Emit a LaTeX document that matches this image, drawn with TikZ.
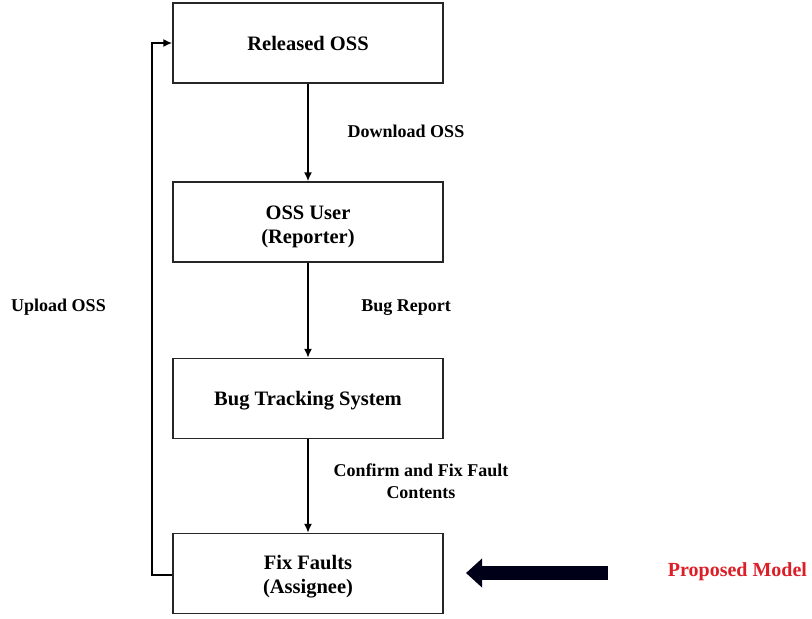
\documentclass[tikz,border=0pt]{standalone}
\usepackage{fontspec}
\setmainfont{Liberation Serif}
\usetikzlibrary{arrows.meta}
\definecolor{propred}{RGB}{220,30,40}
\begin{document}
\begin{tikzpicture}[x=1pt,y=-1pt,
  box/.style={draw=black!85,line width=1.3pt,minimum width=270pt,minimum height=80pt,inner sep=0pt},
  boxtext/.style={align=center,font=\bfseries\fontsize{20.5}{24}\selectfont,inner sep=0pt},
  lbl/.style={font=\bfseries\fontsize{18}{22}\selectfont,align=center},
  conn/.style={line width=1.8pt,-{Latex[length=9pt,width=8pt]}}]
\useasboundingbox (0,0) rectangle (812,619);
\node[box] (rel) at (308,43) {};
\node[box] (user) at (308,222) {};
\node[box] (bts) at (308,398.5) {};
\node[box] (fix) at (308,573.5) {};
\node[boxtext] (relt) at (308,43.5) {Released OSS};
\node[boxtext] (usert) at (308,227) {OSS User\\(Reporter)};
\node[boxtext] (btst) at (308,400.5) {Bug Tracking System};
\node[boxtext] (fixt) at (308,577) {Fix Faults\\(Assignee)};
\draw[conn] (rel) -- (user);
\draw[conn] (user) -- (bts);
\draw[conn] (bts) -- (fix);
\coordinate (c1) at (152,575);
\coordinate (c2) at (152,43);
\draw[conn,line width=2.2pt] (fix.west |- c1) -- (c1) -- (c2) -- (rel.west);
\node[lbl] (l1) at (406,131) {Download OSS};
\node[lbl] (l2) at (406,308) {Bug Report};
\node[lbl] (l3) at (421,481) {Confirm and Fix Fault\\Contents};
\node[lbl] (l4) at (58.5,307) {Upload OSS};
\node[font=\bfseries\fontsize{20}{24}\selectfont,text=propred] (pm) at (737.5,572) {Proposed Model};
\coordinate (a1) at (608,573);
\coordinate (a2) at (466,573);
\draw[line width=14pt,-{Triangle[length=16pt,width=28pt]},draw=black!90!blue,fill=black!90!blue] (a1) -- (a2);
\end{tikzpicture}
\end{document}
